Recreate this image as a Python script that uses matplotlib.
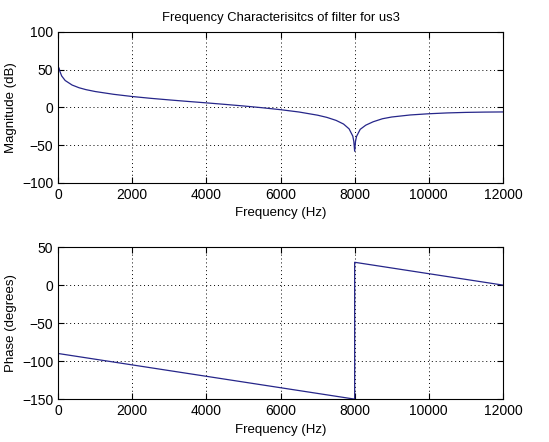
import matplotlib
matplotlib.use("Agg")
import matplotlib.pyplot as plt

# magnitude response (Hz, dB)
mag_freq = [23, 47, 94, 188, 375, 563, 750, 1000, 1500, 2000, 2500, 3000, 3500,
            4000, 4500, 5000, 5500, 6000, 6500, 7000, 7250, 7500, 7700, 7850,
            7950, 7977, 8000, 8023, 8050, 8150, 8300, 8500, 8750, 9000, 9500,
            10000, 10500, 11000, 11500, 12000]
mag_db = [52, 47.5, 41.6, 35.6, 29.6, 26, 23.5, 21, 17.3, 14.4, 12, 9.9, 7.9,
          6, 4, 1.9, -0.4, -3, -6.1, -10.3, -13.2, -17.2, -22, -28.4,
          -38, -45, -58, -45, -38.5, -29, -23.5, -19, -15, -12.7, -10,
          -8.4, -7.3, -6.6, -6.2, -6]

# phase response (Hz, degrees)
ph_freq = [0, 8000, 8000, 12000]
ph_deg = [-90, -150, 30, 0]

line_col = "#26268a"

plt.rcParams["font.family"] = ["Liberation Sans", "DejaVu Sans"]
plt.rcParams["font.size"] = 9.5

fig = plt.figure(figsize=(5.49, 4.42), dpi=100)
ax1 = fig.add_axes([0.106, 0.586, 0.810, 0.342])
ax2 = fig.add_axes([0.106, 0.097, 0.810, 0.344])

ax1.plot(mag_freq, mag_db, color=line_col, lw=0.9)
ax1.set_xlim(0, 12000)
ax1.set_ylim(-100, 100)
ax1.set_yticks([-100, -50, 0, 50, 100])
ax1.set_xticks(range(0, 12001, 2000))
ax1.set_xlabel("Frequency (Hz)")
ax1.set_ylabel("Magnitude (dB)")
ax1.set_title("Frequency Characterisitcs of filter for us3", fontsize=9.4, pad=8)

ax2.plot(ph_freq, ph_deg, color=line_col, lw=0.9)
ax2.set_xlim(0, 12000)
ax2.set_ylim(-150, 50)
ax2.set_yticks([-150, -100, -50, 0, 50])
ax2.set_xticks(range(0, 12001, 2000))
ax2.set_xlabel("Frequency (Hz)")
ax2.set_ylabel("Phase (degrees)")

for ax in (ax1, ax2):
    ax.grid(True, color="k", linestyle=(0, (1, 3)), linewidth=0.7)
    ax.tick_params(direction="in", length=4, top=True, right=True, labelsize=10)
    for s in ax.spines.values():
        s.set_linewidth(0.8)

fig.savefig("out.png", dpi=100)
